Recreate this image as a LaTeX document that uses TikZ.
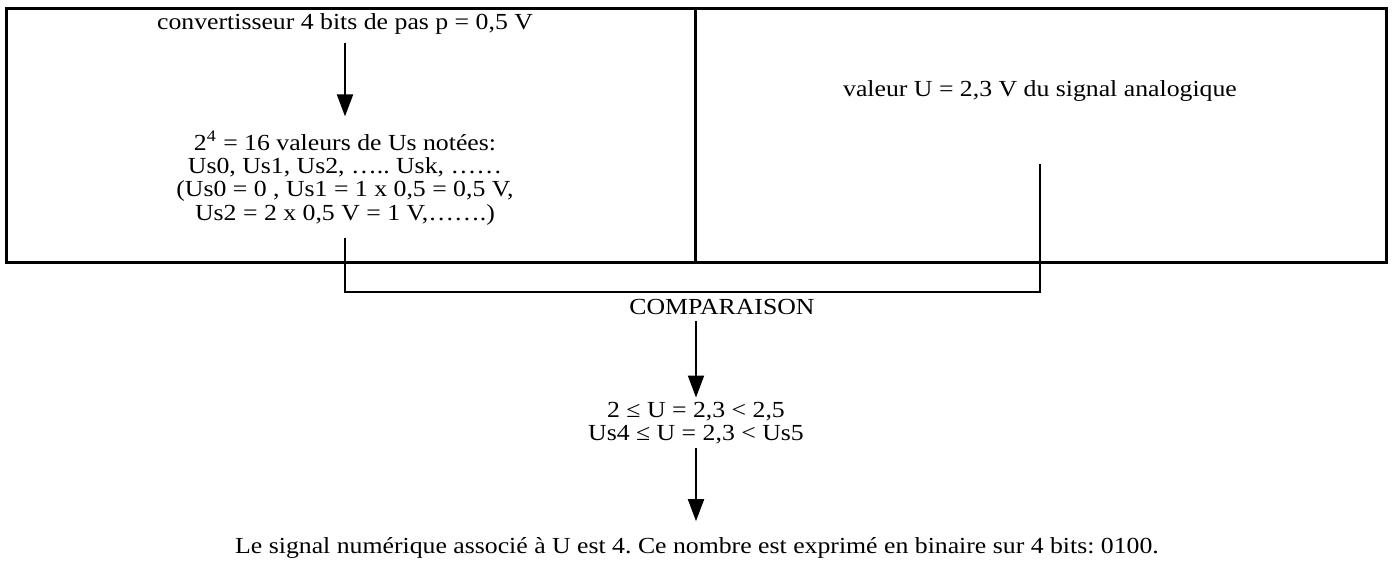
\documentclass[tikz,border=0pt]{standalone}
\usepackage{fontspec}
\setmainfont{Liberation Serif}[FakeStretch=1.12]
\usepackage{tikz}
\usetikzlibrary{positioning,arrows.meta}
\frenchspacing

\begin{document}
\begin{tikzpicture}[x=0.5pt, y=-0.5pt,
		txt/.style={font=\fontsize{11.5}{11.7}\selectfont, inner sep=0pt, align=center},
		flow/.style={line width=1pt, -{Triangle[width=8pt,length=11pt]}},
		link/.style={line width=0.9pt}]
	\useasboundingbox (0,0) rectangle (1393,563);
	% tableau
	\draw[line width=1.5pt] (6,8) rectangle (1386,262);
	\draw[line width=1.5pt] (695,8) -- (695,262);
	\node[txt] (conv) at (345,24) {convertisseur 4 bits de pas p = 0,5 V};
	\node[txt] (vals) at (345,178) {2\textsuperscript{4} = 16 valeurs de Us notées:\\Us0, Us1, Us2, ….. Usk, ……\\(Us0 = 0 , Us1 = 1 x 0,5 = 0,5 V,\\Us2 = 2 x 0,5 V = 1 V,…….)};
	\node[txt] (anal) at (1040,91) {valeur U = 2,3 V du signal analogique};
	\draw[flow, shorten <=4pt, shorten >=7pt] (conv) -- (vals);
	% comparaison
	\coordinate (bar) at (0,292);
	\draw[link, shorten <=6pt, shorten >=31pt] (vals.south) -- (vals.south |- bar) -- (anal.south |- bar) -- (anal.south);
	\node[txt] (comp) at (722,307) {COMPARAISON};
	\node[txt] (ineq) at (696,423) {2 ≤ U = 2,3 < 2,5\\Us4 ≤ U = 2,3 < Us5};
	\node[txt] (res) at (697,548) {Le signal numérique associé à U est 4. Ce nombre est exprimé en binaire sur 4 bits: 0100.};
	\draw[flow, shorten <=3pt, shorten >=2pt] (comp.south -| ineq.north) -- (ineq.north);
	\draw[flow, shorten <=2pt, shorten >=8pt] (ineq.south) -- (ineq.south |- res.north);
\end{tikzpicture}
\end{document}
